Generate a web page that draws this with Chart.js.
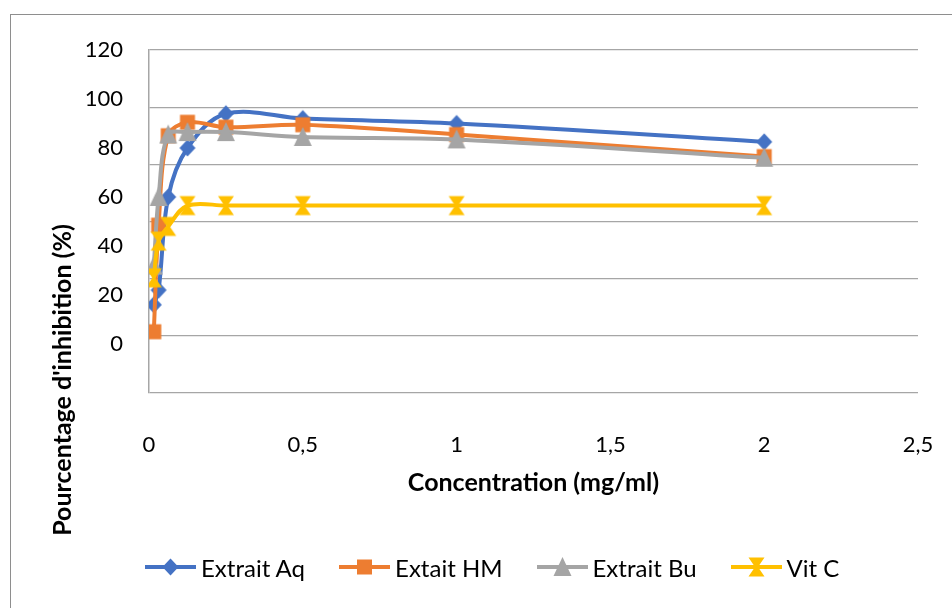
<!DOCTYPE html>
<html>
<head>
<meta charset="utf-8">
<script src="https://cdn.jsdelivr.net/npm/chart.js@4.4.1/dist/chart.umd.min.js"></script>
<style>
html,body{margin:0;padding:0;background:#fff;overflow:hidden;}
#frame{position:absolute;left:10px;top:14px;width:1000px;height:700px;border:1px solid #8e8e8e;}
#chart{position:absolute;left:0;top:0;}
#legend{position:absolute;left:145px;top:552px;height:30px;display:flex;align-items:center;font-family:Lato;font-size:24px;color:#000;white-space:nowrap;}
#legend .item{display:flex;align-items:center;margin-right:34px;}
#legend canvas{display:block;margin-right:5px;}
</style>
</head>
<body>
<div id="frame"></div>
<canvas id="chart" width="952" height="608"></canvas>
<div id="legend"></div>
<script>
// concentrations (mg/ml) and % inhibition
const concentrations=[0.015625,0.03125,0.0625,0.125,0.25,0.5,1,2];
const extraitAq=[16,22,60,80,94,92,90,82.5];
const extaitHM=[5,48.5,85,90.5,88.5,89.5,85.5,76.5];
const extraitBu=[32,60,85.5,86.5,86.5,84.5,83.5,76];
const vitC=[27,42,48,56.5,56.5,56.5,56.5,56.5];

const xTicks=[0,0.5,1,1.5,2,2.5];
const yLabels=[0,20,40,60,80,100,120];
const yMin=-20,yMax=120,gridDivisions=6;
const xTitle="Concentration (mg/ml)";
const yTitle="Pourcentage d'inhibition (%)";

const seriesNames=["Extrait Aq","Extait HM","Extrait Bu","Vit C"];
const seriesValues=[extraitAq,extaitHM,extraitBu,vitC];
const seriesColors=["#4472C4","#ED7D31","#A5A5A5","#FFC000"];
const seriesShapes=["diamond","square","triangle","hourglass"];

function drawMarker(g,shape,color,cx,cy){
    g.fillStyle=color;
    g.beginPath();
    if(shape==="diamond"){
        g.moveTo(cx,cy-8.5);g.lineTo(cx+8,cy);g.lineTo(cx,cy+8.5);g.lineTo(cx-8,cy);
    }else if(shape==="square"){
        g.rect(cx-7.5,cy-7.5,15,15);
    }else if(shape==="triangle"){
        g.moveTo(cx,cy-10);g.lineTo(cx+9,cy+9);g.lineTo(cx-9,cy+9);
    }else{
        g.moveTo(cx-8,cy-9.5);g.lineTo(cx+8,cy-9.5);g.lineTo(cx+1.5,cy);
        g.lineTo(cx+8,cy+9.5);g.lineTo(cx-8,cy+9.5);g.lineTo(cx-1.5,cy);
    }
    g.closePath();g.fill();
}

function markerCanvas(shape,color){
    const c=document.createElement("canvas");
    c.width=20;c.height=22;
    drawMarker(c.getContext("2d"),shape,color,10,11);
    return c;
}

function buildLegend(){
    const box=document.getElementById("legend");
    seriesNames.forEach((name,i)=>{
        const item=document.createElement("div");
        item.className="item";
        const c=document.createElement("canvas");
        c.width=51;c.height=22;
        const g=c.getContext("2d");
        g.strokeStyle=seriesColors[i];g.lineWidth=4;
        g.beginPath();g.moveTo(0,11);g.lineTo(51,11);g.stroke();
        drawMarker(g,seriesShapes[i],seriesColors[i],25.5,11);
        const t=document.createElement("span");
        t.textContent=name;
        item.appendChild(c);item.appendChild(t);
        box.appendChild(item);
    });
}

function near(a,b){return Math.abs(a-b)<1e-6;}
const gridValues=[];
for(let i=0;i<=gridDivisions;i++) gridValues.push(yMin+i*(yMax-yMin)/gridDivisions);

const datasets=seriesNames.map((name,i)=>({
    label:name,
    data:concentrations.map((x,j)=>({x:x,y:seriesValues[i][j]})),
    borderColor:seriesColors[i],
    backgroundColor:seriesColors[i],
    borderWidth:4,
    showLine:true,
    tension:0.35,
    pointStyle:markerCanvas(seriesShapes[i],seriesColors[i]),
    pointRadius:8,
    order:seriesNames.length-i
}));

const yTitlePlugin={
    id:"yTitle",
    afterDraw(chart){
        const c=chart.ctx;
        c.save();
        c.translate(63,380);
        c.rotate(-Math.PI/2);
        c.font="bold 25px Lato";
        c.fillStyle="#000";
        c.textAlign="center";
        c.textBaseline="middle";
        c.fillText(yTitle,0,0);
        c.restore();
    }
};

Chart.defaults.font.family="Lato";
Chart.defaults.font.size=22;
Chart.defaults.color="#000";

new Chart(document.getElementById("chart"),{
    type:"scatter",
    data:{datasets:datasets},
    plugins:[yTitlePlugin],
    options:{
        responsive:false,
        animation:false,
        devicePixelRatio:1,
        layout:{padding:{top:50,right:34,bottom:0,left:0}},
        plugins:{
            tooltip:{enabled:false},
            legend:{display:false}
        },
        scales:{
            x:{
                type:"linear",
                min:0,max:2.5,
                afterBuildTicks:s=>{s.ticks=xTicks.map(v=>({value:v}));},
                afterFit:s=>{s.height=215;s.paddingRight=0;s.paddingLeft=0;},
                grid:{display:false},
                border:{display:false},
                ticks:{padding:31,callback:v=>String(v).replace(".",","),font:{size:22}},
                title:{display:true,text:xTitle,font:{size:25,weight:"bold"},padding:{top:0,bottom:110}}
            },
            y:{
                type:"linear",
                min:yMin,max:yMax,
                afterBuildTicks:s=>{
                    const vals=gridValues.slice();
                    yLabels.forEach(v=>{if(!vals.some(g=>near(g,v))) vals.push(v);});
                    vals.sort((a,b)=>a-b);
                    s.ticks=vals.map(v=>({value:v}));
                },
                afterFit:s=>{s.width=149;},
                grid:{
                    drawTicks:false,
                    lineWidth:1.3,
                    color:ctx=>gridValues.some(g=>near(g,ctx.tick.value))?"#a6a6a6":"rgba(0,0,0,0)"
                },
                border:{display:true,color:"#a6a6a6",width:1.5},
                ticks:{
                    padding:26,
                    autoSkip:false,
                    font:{size:22},
                    callback:v=>yLabels.some(l=>near(l,v))?String(Math.round(v)):""
                }
            }
        }
    }
});
buildLegend();
</script>
</body>
</html>
